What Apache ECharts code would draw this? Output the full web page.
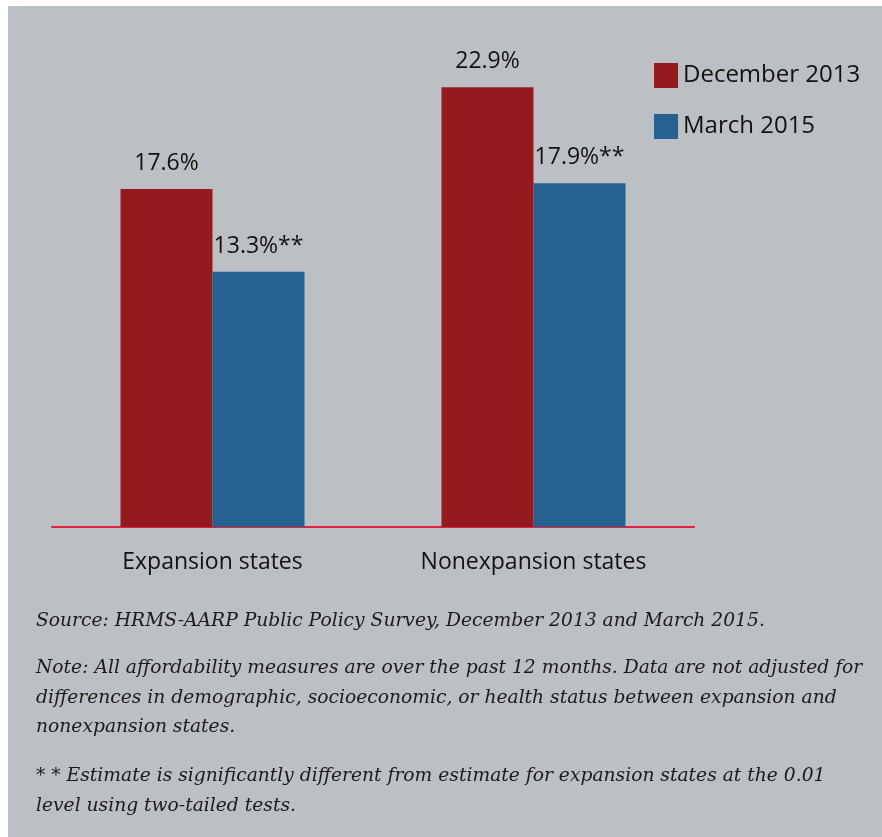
<!DOCTYPE html>
<html>
<head>
<meta charset="UTF-8">
<title>Affordability by expansion status</title>
<style>
  html, body { margin: 0; padding: 0; background: #fff; }
  #myChart { width: 882px; height: 837px; }
</style>
</head>
<body>
<div id="myChart"></div>
<script src="https://cdn.jsdelivr.net/npm/echarts@6/dist/echarts.min.js"></script>
<script>
// data
var categories = ['Expansion states', 'Nonexpansion states'];
var seriesNames = ['December 2013', 'March 2015'];
var dec2013 = [17.6, 22.9];
var mar2015 = [13.3, 17.9];
var labelSuffix = ['', '**'];
var footnotes = [
  'Source: HRMS-AARP Public Policy Survey, December 2013 and March 2015.',
  'Note: All affordability measures are over the past 12 months. Data are not adjusted for',
  'differences in demographic, socioeconomic, or health status between expansion and',
  'nonexpansion states.',
  '* * Estimate is significantly different from estimate for expansion states at the 0.01',
  'level using two-tailed tests.'
];
var footnoteY = [621, 668, 698, 727, 776, 806];

var colors = ['#941a1e', '#266191'];
var sansFont = '"Open Sans", Roboto, sans-serif';
var noteSize = 18.7;

var myChart = echarts.init(document.getElementById('myChart'));

function makeSeries(name, values, idx) {
  return {
    name: name,
    type: 'bar',
    data: values,
    barWidth: 92,
    barGap: 0,
    itemStyle: { color: colors[idx] },
    label: {
      show: true,
      position: 'top',
      distance: 14,
      color: '#111',
      fontFamily: sansFont,
      fontSize: 23,
      formatter: function (p) {
        return p.value.toFixed(1) + '%' + labelSuffix[idx];
      }
    }
  };
}

var graphics = [{
  type: 'rect',
  z: -10,
  shape: { x: 8, y: 6, width: 874, height: 831 },
  style: { fill: '#bcc0c4' },
  silent: true
}];
for (var i = 0; i < footnotes.length; i++) {
  graphics.push({
    type: 'text',
    left: 36,
    top: footnoteY[i] - noteSize / 2,
    style: {
      text: footnotes[i],
      fill: '#1a1a1a',
      font: 'italic ' + noteSize + 'px "DejaVu Serif", serif'
    }
  });
}

var option = {
  animation: false,
  backgroundColor: '#ffffff',
  graphic: graphics,
  legend: {
    orient: 'vertical',
    left: 654,
    top: 63,
    padding: 0,
    itemWidth: 24,
    itemHeight: 25,
    itemGap: 26,
    icon: 'rect',
    data: seriesNames,
    textStyle: { fontFamily: sansFont, fontSize: 24, color: '#111' }
  },
  grid: {
    left: 52,
    right: 188,
    top: 47,
    bottom: 310,
    containLabel: false
  },
  xAxis: {
    type: 'category',
    data: categories,
    axisLine: { show: true, lineStyle: { color: '#e52039', width: 2 } },
    axisTick: { show: false },
    axisLabel: {
      margin: 24,
      color: '#111',
      fontFamily: sansFont,
      fontSize: 23
    }
  },
  yAxis: {
    type: 'value',
    min: 0,
    max: 25,
    show: false,
    splitLine: { show: false }
  },
  series: [
    makeSeries(seriesNames[0], dec2013, 0),
    makeSeries(seriesNames[1], mar2015, 1)
  ]
};

myChart.setOption(option);
</script>
</body>
</html>
